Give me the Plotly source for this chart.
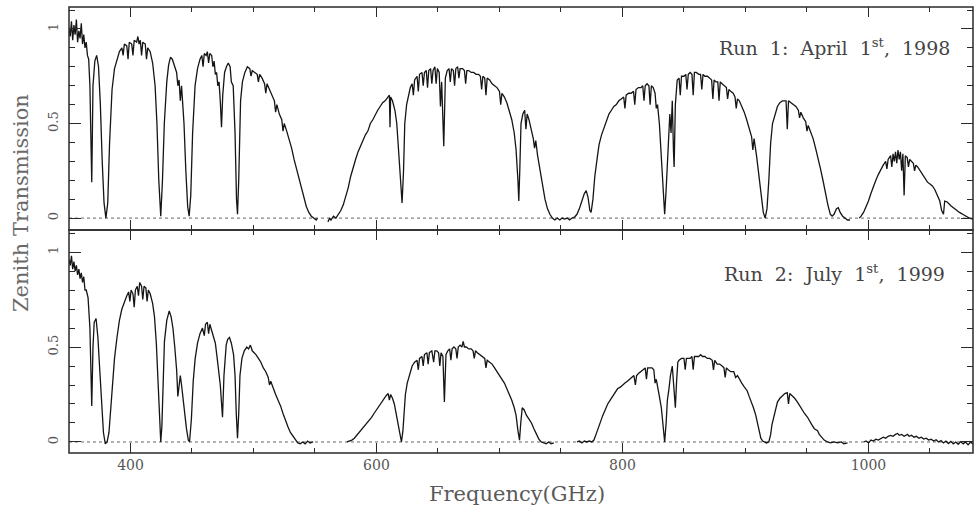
import plotly.graph_objects as go

# ---------------- Run 1: April 1st, 1998 ----------------
run1_freq = [
    350, 351, 352, 353, 354, 355, 356, 357, 358, 359,
    360, 361, 362, 363, 364, 365, 366, 367, 368.5, 369.5,
    371, 372.5, 374, 375.5, 377, 378.5, 380, 381.5, 383, 385,
    387, 389, 391, 393, 394, 395, 397, 398, 399, 401,
    402, 403, 405, 406, 407, 408, 409, 410, 412, 413,
    414, 416, 418, 420, 421.5, 423, 424.6, 426, 427.5, 429.5,
    431, 432.5, 434, 436, 437.5, 438.5, 439.5, 440.5, 441.5, 442.5,
    443.5, 445, 446.5, 447.7, 449, 450.5, 452.5, 454.5, 456.5, 458,
    459, 460, 461.5, 462.5, 463.5, 464.5, 466, 467, 468, 469,
    470, 471, 472, 473, 474, 475, 476.5, 478, 479.5, 481,
    482, 483.5, 485, 486.2, 487, 488, 489.5, 491, 493, 495,
    497, 498, 499, 501, 503, 504, 505, 507, 509, 510,
    511, 513, 515, 517, 518, 519, 521, 523, 524, 525,
    527, 529, 531, 533, 535, 537, 539, 541, 543, 545,
    547, 549, 551, 552, None, 560.5, 562, 563, 565, 567,
    569, 571, 573, 575, 577, 579, 581, 583, 585, 587,
    589, 591, 593, 595, 597, 599, 601, 603, 605, 607,
    609, 610.5, 611, 611.5, 613, 615, 616.5, 618, 619.5, 620.8,
    622, 623, 624.5, 626, 627.5, 629, 630, 631, 633, 634,
    635, 637, 638, 639, 640.5, 641.5, 642.5, 644, 645, 646,
    647.5, 648.5, 649.5, 651, 652, 653, 654.7, 656, 657.5, 659,
    660, 661, 662.5, 663.5, 664.5, 666, 667, 668, 670, 671.5,
    672.5, 673.5, 675, 677, 679, 681, 683, 684.5, 685.5, 686.5,
    688, 689, 690, 692, 694, 696, 698, 700, 701, 702,
    704, 706, 708, 710, 712, 713.5, 715, 715.7, 716.5, 717.5,
    719, 720.5, 721.5, 722.5, 724, 726, 727.5, 728.5, 729.5, 731,
    733, 735, 737, 739, 741, 743, 745, 747, 749, 751,
    753, 755, 757, 759, 761, 763, 765, 767, 769, 770.5,
    772, 773.5, 774.5, 776, 777.5, 779.5, 781, 783, 785, 787,
    789, 791, 793, 795, 797, 799, 801, 802, 803, 805,
    807, 809, 810, 811, 813, 815, 816.5, 817.5, 818.5, 820,
    821.5, 822.5, 823.5, 825, 826.5, 827.5, 828.5, 830, 831.5, 833,
    834.3, 835.5, 837, 838.5, 839.5, 840.5, 841.5, 842, 843, 844.5,
    846, 847, 848, 850, 851.5, 852.5, 853.5, 855, 856.5, 857.5,
    858.5, 860, 862, 863.5, 864.5, 865.5, 867, 869, 871, 872.5,
    873.5, 874.5, 876, 877.5, 878.5, 879.5, 881, 883, 884.5, 885.5,
    886.5, 888, 890, 891.5, 892.5, 893.5, 895, 897, 899, 901,
    903, 905, 906, 907, 909, 911, 913, 914.5, 916, 917.5,
    919, 920.5, 922, 924, 926, 928, 930, 932, 933, 934,
    935, 937, 939, 941, 943, 944, 945, 947, 949, 950,
    951, 953, 955, 957, 959, 961, 963, 965, 967, 969,
    970.5, 972, 974, 975.5, 977, 979, 981, 983, 985, None,
    992.5, 994, 996, 998, 1000, 1002, 1004, 1006, 1008, 1010,
    1012, 1014, 1015, 1016, 1018, 1019, 1020, 1021, 1022, 1023,
    1024, 1025, 1026, 1027, 1028, 1029, 1030, 1031.5, 1032.5, 1033.5,
    1035, 1036.5, 1037.5, 1038.5, 1040, 1042, 1044, 1046, 1048, 1050,
    1052, 1054, 1056, 1058, 1059.5, 1061, 1062, 1064, 1067, 1070,
    1074, 1078, 1082, 1085,
]
run1_trans = [
    1.00, 0.96, 1.04, 0.94, 1.02, 0.97, 1.05, 0.93, 0.99, 0.95,
    1.03, 0.92, 0.97, 0.90, 0.93, 0.86, 0.84, 0.70, 0.19, 0.70,
    0.83, 0.86, 0.80, 0.60, 0.30, 0.08, 0.00, 0.08, 0.40, 0.68,
    0.79, 0.84, 0.88, 0.90, 0.86, 0.92, 0.91, 0.84, 0.93, 0.92,
    0.86, 0.94, 0.93, 0.96, 0.92, 0.94, 0.86, 0.93, 0.92, 0.84,
    0.90, 0.88, 0.82, 0.70, 0.50, 0.20, 0.01, 0.20, 0.50, 0.72,
    0.81, 0.85, 0.84, 0.80, 0.77, 0.70, 0.73, 0.62, 0.70, 0.60,
    0.50, 0.25, 0.06, 0.01, 0.12, 0.45, 0.70, 0.79, 0.84, 0.86,
    0.80, 0.87, 0.86, 0.88, 0.82, 0.87, 0.86, 0.80, 0.83, 0.76,
    0.77, 0.70, 0.72, 0.62, 0.48, 0.65, 0.77, 0.80, 0.82, 0.80,
    0.72, 0.70, 0.45, 0.10, 0.02, 0.20, 0.62, 0.72, 0.77, 0.80,
    0.79, 0.75, 0.78, 0.77, 0.76, 0.72, 0.76, 0.74, 0.71, 0.66,
    0.71, 0.68, 0.65, 0.62, 0.56, 0.60, 0.55, 0.52, 0.46, 0.50,
    0.46, 0.42, 0.37, 0.31, 0.26, 0.20, 0.15, 0.10, 0.06, 0.03,
    0.01, 0.00, -0.01, 0.00, None, -0.02, 0.00, -0.01, 0.01, 0.00,
    0.02, 0.04, 0.07, 0.11, 0.16, 0.22, 0.27, 0.31, 0.35, 0.38,
    0.41, 0.44, 0.46, 0.50, 0.52, 0.55, 0.57, 0.59, 0.61, 0.62,
    0.64, 0.65, 0.48, 0.64, 0.62, 0.57, 0.50, 0.36, 0.18, 0.08,
    0.25, 0.50, 0.60, 0.65, 0.69, 0.71, 0.65, 0.73, 0.75, 0.67,
    0.76, 0.77, 0.70, 0.77, 0.78, 0.69, 0.78, 0.79, 0.71, 0.78,
    0.80, 0.71, 0.79, 0.77, 0.59, 0.72, 0.38, 0.74, 0.78, 0.79,
    0.72, 0.79, 0.78, 0.70, 0.79, 0.80, 0.74, 0.79, 0.79, 0.78,
    0.71, 0.78, 0.78, 0.77, 0.77, 0.76, 0.76, 0.75, 0.68, 0.75,
    0.74, 0.65, 0.74, 0.73, 0.71, 0.70, 0.69, 0.67, 0.60, 0.66,
    0.64, 0.61, 0.57, 0.52, 0.45, 0.36, 0.20, 0.09, 0.25, 0.50,
    0.55, 0.57, 0.47, 0.55, 0.52, 0.47, 0.42, 0.37, 0.41, 0.33,
    0.25, 0.17, 0.10, 0.05, 0.02, 0.00, -0.01, 0.00, -0.01, 0.00,
    -0.005, 0.00, -0.01, 0.00, 0.005, 0.02, 0.05, 0.09, 0.13, 0.145,
    0.11, 0.04, 0.03, 0.10, 0.22, 0.32, 0.39, 0.44, 0.48, 0.52,
    0.55, 0.57, 0.59, 0.60, 0.62, 0.63, 0.64, 0.58, 0.65, 0.66,
    0.66, 0.67, 0.60, 0.68, 0.69, 0.69, 0.70, 0.62, 0.70, 0.71,
    0.70, 0.60, 0.70, 0.69, 0.66, 0.58, 0.60, 0.50, 0.33, 0.12,
    0.02, 0.15, 0.38, 0.55, 0.45, 0.62, 0.35, 0.27, 0.60, 0.73,
    0.74, 0.65, 0.75, 0.75, 0.76, 0.68, 0.76, 0.77, 0.76, 0.65,
    0.77, 0.77, 0.76, 0.76, 0.68, 0.76, 0.75, 0.75, 0.74, 0.73,
    0.63, 0.73, 0.72, 0.72, 0.62, 0.72, 0.71, 0.70, 0.69, 0.63,
    0.68, 0.67, 0.66, 0.64, 0.58, 0.63, 0.62, 0.59, 0.56, 0.52,
    0.48, 0.43, 0.36, 0.42, 0.33, 0.22, 0.10, 0.03, 0.00, 0.05,
    0.20, 0.40, 0.50, 0.55, 0.59, 0.61, 0.62, 0.62, 0.62, 0.47,
    0.62, 0.61, 0.60, 0.59, 0.57, 0.53, 0.56, 0.53, 0.51, 0.46,
    0.49, 0.46, 0.42, 0.37, 0.32, 0.26, 0.20, 0.13, 0.07, 0.02,
    0.01, 0.02, 0.05, 0.055, 0.03, 0.01, 0.00, -0.01, -0.01, None,
    0.00, 0.01, 0.03, 0.06, 0.09, 0.13, 0.17, 0.20, 0.23, 0.26,
    0.28, 0.30, 0.26, 0.31, 0.33, 0.27, 0.34, 0.30, 0.35, 0.29,
    0.36, 0.31, 0.35, 0.25, 0.34, 0.12, 0.33, 0.32, 0.27, 0.31,
    0.30, 0.29, 0.25, 0.28, 0.27, 0.25, 0.23, 0.21, 0.19, 0.18,
    0.17, 0.15, 0.12, 0.09, 0.04, 0.02, 0.09, 0.085, 0.065, 0.05,
    0.03, 0.015, 0.00, -0.005,
]

# ---------------- Run 2: July 1st, 1999 ----------------
run2_freq = [
    350, 351, 352, 353, 354, 355, 356, 357, 358, 359,
    360, 361, 362, 363, 364, 365.5, 367, 368.5, 369.5, 370.5,
    372, 373.5, 375, 376.5, 378, 379.5, 381, 382.5, 384, 385.5,
    387, 389, 391, 393, 395, 397, 398.5, 399.5, 400.5, 402,
    403, 404, 405.5, 406.5, 407.5, 409, 410, 411, 412.5, 413.5,
    414.5, 416, 418, 419.5, 421, 422.5, 423.7, 424.6, 425.5, 426.5,
    427.6, 429.5, 431.5, 433, 434.5, 436, 437.5, 438.5, 439.5, 440.5,
    441.5, 443, 444.4, 445.5, 447, 448, 449.5, 451, 452.6, 454.5,
    456.5, 458.5, 460, 461, 462.5, 463.5, 464.5, 466, 467.5, 469,
    470.5, 471.6, 473, 474.8, 476, 477.8, 479, 480.5, 482, 483.8,
    485, 486, 487, 488, 489, 490.6, 492.5, 494.6, 496, 497.5,
    499, 500.5, 502, 504, 506, 508, 510, 512, 513, 514,
    516, 518, 520, 522, 524, 526, 528, 530, 532, 534,
    536, 538, 540, 542, 544, 546, 548.5, None, 576, 578,
    580, 582, 584, 586, 588, 590, 592, 594, 596, 598,
    600, 602, 604, 606, 608, 609.5, 610.5, 611.5, 613, 614.5,
    616, 617.5, 619, 620.3, 621.5, 622.5, 623.5, 625, 627, 629,
    631, 633, 634, 635, 637, 638, 639, 641, 642, 643,
    645, 646.5, 647.5, 649, 650.5, 651.5, 652.5, 654, 655.2, 656.5,
    658, 659.5, 660.5, 661.5, 663, 664.5, 665.5, 666.5, 668, 669.5,
    670.5, 671.5, 673, 675, 677, 678.5, 679.5, 680.5, 682, 684,
    686, 688, 689, 690, 692, 694, 696, 698, 700, 702,
    704, 706, 708, 710, 712, 713.5, 715, 716.3, 717.3, 718.5,
    720, 722, 724, 726, 728, 730, 732, 734, 736, 738,
    740, 742, 744.2, None, 763, 765, 767, 769, 771, 773,
    775, 776.8, 778.5, 780, 782, 784, 786, 788, 790, 792,
    794, 796, 798.5, 800, 802, 804, 806, 808, 809.3, 810.5,
    811.5, 813, 815, 817, 818.5, 819.5, 820.5, 822, 824, 825.5,
    826.5, 827.5, 828.5, 830, 831.6, 833, 834.3, 835.5, 836.5, 837.8,
    839, 840.5, 841.5, 842.5, 843, 844, 845, 846, 848, 850,
    851, 852, 853.5, 855, 856.5, 857.5, 858.5, 860, 862, 863.6,
    865, 867, 869, 871, 873, 874, 875, 877, 879, 881,
    882.5, 883.5, 884.5, 886, 888, 890.5, 892, 893.5, 895, 897,
    899, 901.4, 903, 905, 906.5, 908.4, 910, 911.5, 912.5, 914,
    915.5, 917, 919, 920.5, 921.5, 922.8, 924.5, 926, 928, 930,
    932, 934, 935, 936, 938, 940, 942.3, 944, 946, 948,
    950.5, 952, 954, 956, 958.6, 960, 962, 964, 966.8, 969,
    972, 975, 978, 980, 983, None, 996.3, 998, 1000, 1002,
    1004, 1006, 1008, 1010, 1012, 1014, 1016, 1018, 1020, 1022,
    1023.7, 1025, 1027, 1029, 1031.8, 1033, 1035, 1037, 1039, 1041,
    1043, 1045, 1047, 1049, 1051, 1053, 1055, 1057, 1059, 1061,
    1063, 1065, 1067, 1069, 1071, 1073, 1075, 1077, 1079, 1081,
    1083, 1085,
]
run2_trans = [
    0.96, 0.93, 0.98, 0.91, 0.95, 0.90, 0.93, 0.88, 0.91, 0.86,
    0.89, 0.84, 0.87, 0.80, 0.80, 0.76, 0.60, 0.19, 0.50, 0.63,
    0.65, 0.55, 0.38, 0.20, 0.05, -0.01, 0.00, 0.05, 0.18, 0.32,
    0.44, 0.55, 0.64, 0.70, 0.74, 0.77, 0.79, 0.74, 0.80, 0.78,
    0.71, 0.80, 0.82, 0.77, 0.84, 0.82, 0.75, 0.82, 0.81, 0.74,
    0.80, 0.78, 0.73, 0.66, 0.52, 0.28, 0.07, 0.00, 0.08, 0.30,
    0.53, 0.64, 0.69, 0.66, 0.60, 0.50, 0.38, 0.24, 0.30, 0.35,
    0.30, 0.20, 0.14, 0.07, 0.01, 0.00, 0.12, 0.32, 0.44, 0.52,
    0.57, 0.60, 0.56, 0.62, 0.63, 0.57, 0.62, 0.59, 0.55, 0.52,
    0.44, 0.38, 0.30, 0.13, 0.35, 0.51, 0.54, 0.55, 0.52, 0.46,
    0.35, 0.15, 0.02, 0.15, 0.35, 0.44, 0.48, 0.50, 0.49, 0.51,
    0.48, 0.47, 0.46, 0.44, 0.42, 0.39, 0.37, 0.34, 0.30, 0.32,
    0.28, 0.25, 0.22, 0.19, 0.15, 0.11, 0.08, 0.05, 0.03, 0.01,
    -0.005, -0.01, 0.00, -0.01, 0.005, -0.005, 0.00, None, 0.00, 0.005,
    0.01, 0.02, 0.035, 0.05, 0.065, 0.08, 0.095, 0.11, 0.13, 0.15,
    0.17, 0.19, 0.21, 0.23, 0.245, 0.255, 0.22, 0.25, 0.23, 0.20,
    0.15, 0.09, 0.03, 0.00, 0.06, 0.16, 0.25, 0.31, 0.36, 0.40,
    0.42, 0.43, 0.38, 0.44, 0.45, 0.40, 0.46, 0.47, 0.41, 0.47,
    0.48, 0.42, 0.48, 0.48, 0.47, 0.40, 0.47, 0.45, 0.21, 0.46,
    0.48, 0.49, 0.43, 0.49, 0.50, 0.49, 0.44, 0.50, 0.51, 0.50,
    0.53, 0.50, 0.50, 0.49, 0.49, 0.48, 0.44, 0.48, 0.47, 0.46,
    0.45, 0.44, 0.39, 0.43, 0.42, 0.41, 0.39, 0.37, 0.35, 0.33,
    0.31, 0.28, 0.25, 0.22, 0.18, 0.14, 0.06, 0.01, 0.10, 0.18,
    0.17, 0.14, 0.12, 0.10, 0.07, 0.04, 0.015, 0.00, -0.005, -0.01,
    0.00, -0.01, -0.005, None, 0.00, 0.005, -0.005, 0.005, 0.00, 0.005,
    0.00, 0.01, 0.04, 0.07, 0.11, 0.14, 0.17, 0.20, 0.22, 0.24,
    0.26, 0.28, 0.29, 0.30, 0.31, 0.32, 0.33, 0.34, 0.35, 0.30,
    0.35, 0.36, 0.37, 0.38, 0.39, 0.33, 0.39, 0.39, 0.39, 0.38,
    0.31, 0.33, 0.30, 0.24, 0.18, 0.06, 0.00, 0.10, 0.22, 0.28,
    0.35, 0.40, 0.30, 0.20, 0.18, 0.32, 0.42, 0.43, 0.44, 0.44,
    0.38, 0.44, 0.44, 0.44, 0.45, 0.38, 0.45, 0.45, 0.45, 0.46,
    0.45, 0.45, 0.44, 0.44, 0.43, 0.38, 0.43, 0.41, 0.41, 0.40,
    0.39, 0.34, 0.39, 0.38, 0.37, 0.37, 0.34, 0.35, 0.33, 0.31,
    0.29, 0.27, 0.24, 0.21, 0.18, 0.14, 0.09, 0.05, 0.02, 0.005,
    0.00, -0.005, 0.00, 0.04, 0.09, 0.13, 0.18, 0.21, 0.23, 0.245,
    0.255, 0.26, 0.20, 0.255, 0.245, 0.23, 0.21, 0.19, 0.17, 0.15,
    0.13, 0.11, 0.09, 0.07, 0.06, 0.04, 0.025, 0.01, 0.00, -0.005,
    0.00, -0.005, 0.00, -0.01, -0.005, None, 0.00, 0.005, -0.005, 0.01,
    0.005, 0.015, 0.01, 0.02, 0.025, 0.02, 0.03, 0.035, 0.03, 0.04,
    0.045, 0.035, 0.04, 0.03, 0.04, 0.03, 0.035, 0.025, 0.03, 0.02,
    0.025, 0.015, 0.02, 0.01, 0.015, 0.005, 0.012, 0.00, 0.008, -0.005,
    0.005, -0.008, 0.003, -0.01, 0.00, -0.012, 0.002, -0.01, 0.00, -0.015,
    0.00, -0.01,
]

x_tick_vals = [400, 600, 800, 1000]
y_tick_vals = [0, 0.5, 1]
y_tick_text = ["0", "0.5", "1"]
run_labels = ["Run\u00a0 1:\u00a0 April\u00a0 1<sup>st</sup>,\u00a0 1998",
              "Run\u00a0 2:\u00a0 July\u00a0 1<sup>st</sup>,\u00a0 1999"]

FONT = "DejaVu Serif"
AX = "#2a2a2a"
TXT = "#555555"

fig = go.Figure()
fig.add_trace(go.Scatter(x=run1_freq, y=run1_trans, mode="lines", xaxis="x2", yaxis="y2",
                         line=dict(color="#151515", width=1.3), connectgaps=False,
                         showlegend=False, hoverinfo="skip"))
fig.add_trace(go.Scatter(x=run2_freq, y=run2_trans, mode="lines", xaxis="x", yaxis="y",
                         line=dict(color="#151515", width=1.3), connectgaps=False,
                         showlegend=False, hoverinfo="skip"))

common = dict(showline=False, mirror="ticks", ticks="inside",
              showgrid=False, zeroline=False, tickcolor=AX, tickwidth=1.3)

xcommon = dict(common, range=[350, 1085], tickvals=x_tick_vals, ticklen=10,
               minor=dict(tickmode="linear", tick0=0, dtick=50, ticks="inside", ticklen=5,
                          tickcolor=AX, tickwidth=1.1, showgrid=False))
ycommon = dict(common, tickvals=y_tick_vals, ticktext=y_tick_text, ticklen=12, tickangle=-90,
               tickfont=dict(family=FONT, size=13, color=TXT), ticklabelstandoff=7,
               minor=dict(tickmode="linear", tick0=0, dtick=0.1, ticks="inside", ticklen=6,
                          tickcolor=AX, tickwidth=1.1, showgrid=False))

fig.update_layout(
    width=974, height=506,
    margin=dict(l=69, r=1, t=7, b=53),
    paper_bgcolor="white", plot_bgcolor="white",
    xaxis=dict(xcommon, domain=[0, 1], anchor="y",
               tickfont=dict(family=FONT, size=14, color=TXT), ticklabelstandoff=2),
    xaxis2=dict(xcommon, domain=[0, 1], anchor="y2", matches="x", showticklabels=False),
    yaxis=dict(ycommon, domain=[0, 0.5], anchor="x", range=[-0.058, 1.116]),
    yaxis2=dict(ycommon, domain=[0.5, 1], anchor="x2", range=[-0.063, 1.116]),
    showlegend=False,
)

# dotted zero-transmission reference lines
for yref, xref in (("y", "x domain"), ("y2", "x2 domain")):
    fig.add_shape(type="line", xref=xref, yref=yref, x0=0, x1=1, y0=0, y1=0,
                  line=dict(color="#666666", width=1, dash="dot"), layer="below")

# panel frames
for yref, xref in (("y domain", "x domain"), ("y2 domain", "x2 domain")):
    fig.add_shape(type="rect", xref=xref, yref=yref, x0=0, x1=1, y0=0, y1=1,
                  line=dict(color=AX, width=1.5), fillcolor="rgba(0,0,0,0)", layer="above")

# run labels
fig.add_annotation(text=run_labels[0], xref="paper", yref="paper", x=0.977, y=0.910,
                   xanchor="right", yanchor="middle", showarrow=False,
                   font=dict(family=FONT, size=19, color="#444444"))
fig.add_annotation(text=run_labels[1], xref="paper", yref="paper", x=0.971, y=0.4036,
                   xanchor="right", yanchor="middle", showarrow=False,
                   font=dict(family=FONT, size=19, color="#444444"))

# axis titles
fig.add_annotation(text="Zenith Transmission", xref="paper", yref="paper", x=-0.0531, y=0.5605,
                   xanchor="center", yanchor="middle", textangle=-90, showarrow=False,
                   font=dict(family=FONT, size=21, color="#6a6a6a"))
fig.add_annotation(text="Frequency(GHz)", xref="paper", yref="paper", x=0.4956, y=-0.092,
                   xanchor="center", yanchor="middle", showarrow=False,
                   font=dict(family=FONT, size=21, color="#5a5a5a"))

fig.write_html("out.html")
